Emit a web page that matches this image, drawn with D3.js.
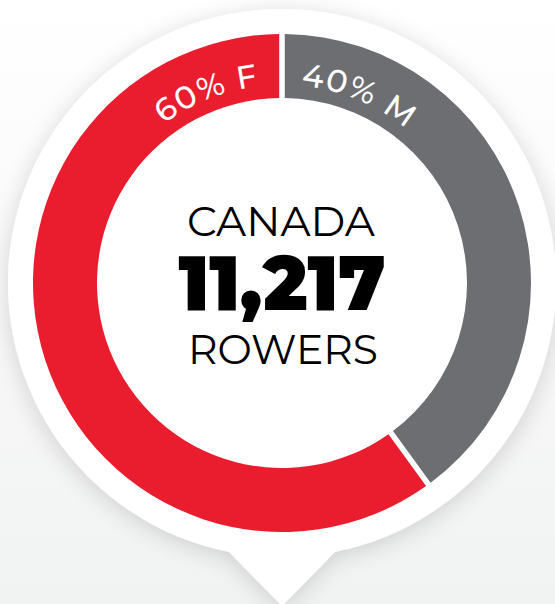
<!DOCTYPE html>
<html>
<head>
<meta charset="utf-8">
<script src="https://cdn.jsdelivr.net/npm/d3@7"></script>
<style>
  html, body { margin: 0; padding: 0; background: #fff; }
  svg { display: block; }
</style>
</head>
<body>
<div id="chart"></div>
<script>
// Data
var categories = ['M', 'F'];
var shares = [40, 60];
var labels = ['40% M', '60% F'];
var country = 'CANADA';
var total = 11217;
var unit = 'ROWERS';

var width = 555,
    height = 604;

var cx = 282, cy = 283,
    outerR = 249, innerR = 185,
    pinR = 274;

var svg = d3.select('#chart')
  .append('svg')
  .attr('width', width)
  .attr('height', height);

var defs = svg.append('defs');

var bg = defs.append('linearGradient')
  .attr('id', 'bg')
  .attr('x1', 0).attr('y1', 0).attr('x2', 0).attr('y2', 1);
bg.append('stop').attr('offset', '0%').attr('stop-color', '#ffffff');
bg.append('stop').attr('offset', '55%').attr('stop-color', '#f8f8f8');
bg.append('stop').attr('offset', '100%').attr('stop-color', '#f1f2f2');

var shadow = defs.append('filter')
  .attr('id', 'shadow')
  .attr('x', '-20%').attr('y', '-20%')
  .attr('width', '140%').attr('height', '140%');
shadow.append('feGaussianBlur')
  .attr('in', 'SourceAlpha')
  .attr('stdDeviation', 12);
shadow.append('feOffset').attr('dx', 0).attr('dy', 4).attr('result', 'blur');
shadow.append('feComponentTransfer')
  .append('feFuncA').attr('type', 'linear').attr('slope', 0.16);
var merge = shadow.append('feMerge');
merge.append('feMergeNode');
merge.append('feMergeNode').attr('in', 'SourceGraphic');

svg.append('rect')
  .attr('width', width)
  .attr('height', height)
  .attr('fill', 'url(#bg)');

// Pin shape: circle plus pointer
var tipY = 606;
var halfW = 52;
var joinY = 553;
var pin = svg.append('g').attr('filter', 'url(#shadow)');
pin.append('circle')
  .attr('cx', cx).attr('cy', cy).attr('r', pinR)
  .attr('fill', '#fff');
pin.append('path')
  .attr('d', d3.line()([[cx - halfW - 10, joinY - 10], [cx - halfW, joinY], [cx, tipY], [cx + halfW, joinY], [cx + halfW + 10, joinY - 10]]))
  .attr('fill', '#fff');

var color = d3.scaleOrdinal()
  .domain(categories)
  .range(['#6d6e71', '#ea1d2f']);

var pie = d3.pie().sort(null).value(function(d) { return d; });
var arcs = pie(shares).map(function(a, i) { a.key = categories[i]; a.label = labels[i]; return a; });

var arc = d3.arc()
  .innerRadius(innerR)
  .outerRadius(outerR)
  .padAngle(0.018);

var g = svg.append('g')
  .attr('transform', 'translate(' + cx + ',' + cy + ')');

g.selectAll('path.slice')
  .data(arcs)
  .enter()
  .append('path')
  .attr('class', 'slice')
  .attr('d', arc)
  .attr('fill', function(d) { return color(d.key); });

// Label baseline arc near top of the ring
var labelR = 198;
var toRad = Math.PI / 180;
function polar(a, r) { return [r * Math.sin(a), -r * Math.cos(a)]; }
var p0 = polar(-90 * toRad, labelR), p1 = polar(90 * toRad, labelR);
defs.append('path')
  .attr('id', 'labelArc')
  .attr('d', 'M' + (cx + p0[0]) + ',' + (cy + p0[1]) + ' A' + labelR + ',' + labelR + ' 0 0,1 ' + (cx + p1[0]) + ',' + (cy + p1[1]));

var arcLen = Math.PI * labelR;
function offsetAt(angleDeg) { return (angleDeg + 90) / 180 * arcLen; }

var labelFont = "'Montserrat', 'Lato', 'Noto Sans', sans-serif";

// 60% F ends just before the gap, 40% M starts just after it
svg.append('text')
  .attr('fill', '#fff')
  .attr('font-family', labelFont)
  .attr('font-weight', 500)
  .attr('font-size', 32)
  .attr('letter-spacing', 1.5)
  .append('textPath')
  .attr('href', '#labelArc')
  .attr('startOffset', offsetAt(-6.5))
  .attr('text-anchor', 'end')
  .text(arcs[1].label);

svg.append('text')
  .attr('fill', '#fff')
  .attr('font-family', labelFont)
  .attr('font-weight', 500)
  .attr('font-size', 32)
  .attr('letter-spacing', 1.5)
  .append('textPath')
  .attr('href', '#labelArc')
  .attr('startOffset', offsetAt(5.5))
  .attr('text-anchor', 'start')
  .text(arcs[0].label);

// Center text
var center = svg.append('g').attr('fill', '#000');
center.append('text')
  .attr('x', cx - 1).attr('y', 236)
  .attr('text-anchor', 'middle')
  .attr('font-family', labelFont)
  .attr('font-size', 41)
  .attr('textLength', 188)
  .attr('lengthAdjust', 'spacingAndGlyphs')
  .text(country);

center.append('text')
  .attr('x', cx - 0).attr('y', 310)
  .attr('text-anchor', 'middle')
  .attr('font-family', labelFont)
  .attr('font-weight', 900)
  .attr('font-size', 77)
  .attr('textLength', 207)
  .attr('lengthAdjust', 'spacingAndGlyphs')
  .text(d3.format(',')(total));

center.append('text')
  .attr('x', cx + 1).attr('y', 364)
  .attr('text-anchor', 'middle')
  .attr('font-family', labelFont)
  .attr('font-size', 41)
  .attr('textLength', 190)
  .attr('lengthAdjust', 'spacingAndGlyphs')
  .text(unit);
</script>
</body>
</html>
